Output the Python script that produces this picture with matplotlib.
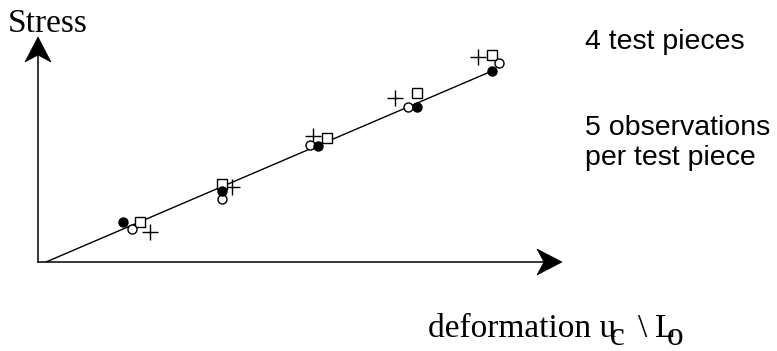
import numpy as np
import matplotlib
matplotlib.use('Agg')
import matplotlib.pyplot as plt
from matplotlib.patches import Polygon

# data: deformation (x) and stress (y) per test piece, 5 observations each
filled_x = [0.85, 1.84, 2.80, 3.79, 4.54]
filled_y = [0.40, 0.71, 1.16, 1.55, 1.91]
open_x = [0.94, 1.84, 2.72, 3.70, 4.61]
open_y = [0.33, 0.63, 1.17, 1.55, 1.99]
square_x = [1.02, 1.84, 2.89, 3.79, 4.54]
square_y = [0.40, 0.78, 1.24, 1.69, 2.07]
plus_x = [1.12, 1.94, 2.75, 3.57, 4.40]
plus_y = [0.30, 0.75, 1.26, 1.64, 2.05]
fit_x = [0.08, 4.54]
fit_y = [0.0, 1.91]

W, H = 777, 351
fig = plt.figure(figsize=(W / 100, H / 100), dpi=100)
# origin of the axes at pixel (38, 262); 1 unit = 100 px
ax = fig.add_axes([38 / W, (H - 262) / H, (W - 38) / W, 262 / H])
ax.set_xlim(0, (W - 38) / 100)
ax.set_ylim(0, 262 / 100)
ax.axis('off')

# axes with arrows
x_tip = 5.24
y_tip = 2.25
ax.plot([0, x_tip - 0.1], [0, 0], color='black', lw=1.1, clip_on=False)
ax.plot([0, 0], [0, y_tip - 0.1], color='black', lw=1.1, clip_on=False)
hl, hw, nd = 0.25, 0.13, 0.07
ax.add_patch(Polygon([[x_tip, 0], [x_tip - hl, hw], [x_tip - hl + nd, 0], [x_tip - hl, -hw]],
                     closed=True, facecolor='black', edgecolor='black', lw=0.5, clip_on=False))
ax.add_patch(Polygon([[0, y_tip], [hw, y_tip - hl], [0, y_tip - hl + nd], [-hw, y_tip - hl]],
                     closed=True, facecolor='black', edgecolor='black', lw=0.5, clip_on=False))

# fitted line
ax.plot(fit_x, fit_y, color='black', lw=1.0)

ax.plot(plus_x, plus_y, '+', color='black', ms=11, mew=1.0, ls='none')
ax.plot(square_x, square_y, 's', mfc='white', mec='black', ms=6.5, mew=1.0, ls='none')
ax.plot(open_x, open_y, 'o', mfc='white', mec='black', ms=6.5, mew=1.0, ls='none')
ax.plot(filled_x, filled_y, 'o', mfc='black', mec='black', ms=6.5, mew=1.0, ls='none')

serif = 'Liberation Serif'
sans = 'Liberation Sans'


def ptext(x, y, s, family, size):
    fig.text(x / W, 1 - y / H, s, family=family, fontsize=size, va='baseline', ha='left')


ptext(8, 32, 'Stress', serif, 24)
ptext(585, 49, '4 test pieces', sans, 20.5)
ptext(585, 135, '5 observations', sans, 20.5)
ptext(585, 165, 'per test piece', sans, 20.5)

ptext(428, 337, 'deformation u', serif, 24)
ptext(610, 345, 'c', serif, 24)
ptext(638, 337, '\\', serif, 24)
ptext(655, 337, 'L', serif, 24)
ptext(667, 345, 'o', serif, 24)

fig.savefig('out.png', dpi=100)
